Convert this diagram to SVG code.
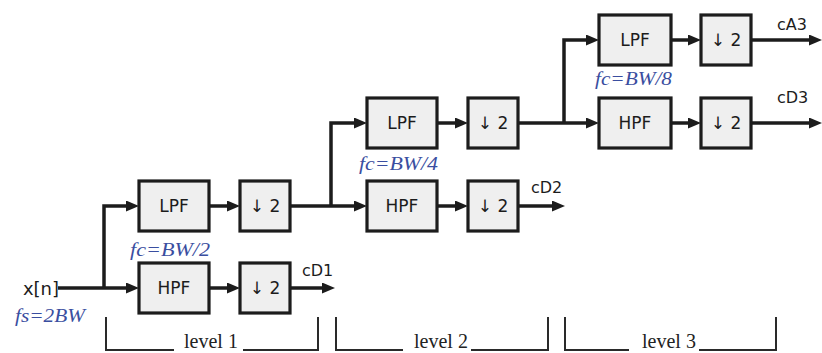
<svg xmlns="http://www.w3.org/2000/svg" width="822" height="353" viewBox="0 0 822 353">
<style>
.box{fill:#efefef;stroke:#1c1c1c;stroke-width:3.2}
.lbl{font-family:"DejaVu Sans","Liberation Sans",sans-serif;font-size:17px;fill:#1c1c1c;text-anchor:middle}
.out{font-family:"DejaVu Sans","Liberation Sans",sans-serif;font-size:16px;fill:#1c1c1c}
.xin{font-family:"DejaVu Sans","Liberation Sans",sans-serif;font-size:18px;fill:#1c1c1c;text-anchor:end}
.fc{font-family:"Liberation Serif","Times New Roman",serif;font-style:italic;font-size:19px;fill:#3a4ea0}
.lev{font-family:"Liberation Serif","Times New Roman",serif;font-size:20px;fill:#222;text-anchor:middle}
.wire{fill:none;stroke:#1c1c1c;stroke-width:3.5}
.br{fill:none;stroke:#2a2a2a;stroke-width:2}
</style>
<defs>
<marker id="ah" markerUnits="userSpaceOnUse" markerWidth="13" markerHeight="11" viewBox="0 0 13 11" refX="3" refY="5.5" orient="auto">
<path d="M0,0 L13,5.5 L0,11 z" fill="#1c1c1c"/>
</marker>
</defs>
<g id="connectors">
<path class="wire" d="M58,288 H129" marker-end="url(#ah)"/>
<path class="wire" d="M104,288 V206 H129" marker-end="url(#ah)"/>
<path class="wire" d="M209,206 H230" marker-end="url(#ah)"/>
<path class="wire" d="M209,288 H230" marker-end="url(#ah)"/>
<path class="wire" d="M290,288 H325" marker-end="url(#ah)"/>
<path class="wire" d="M290,206 H357" marker-end="url(#ah)"/>
<path class="wire" d="M331,206 V123 H357" marker-end="url(#ah)"/>
<path class="wire" d="M437,123 H458" marker-end="url(#ah)"/>
<path class="wire" d="M437,206 H458" marker-end="url(#ah)"/>
<path class="wire" d="M518,206 H555" marker-end="url(#ah)"/>
<path class="wire" d="M518,123 H589" marker-end="url(#ah)"/>
<path class="wire" d="M564,123 V40 H589" marker-end="url(#ah)"/>
<path class="wire" d="M671,40 H691" marker-end="url(#ah)"/>
<path class="wire" d="M671,123 H691" marker-end="url(#ah)"/>
<path class="wire" d="M751,40 H812" marker-end="url(#ah)"/>
<path class="wire" d="M751,123 H812" marker-end="url(#ah)"/>
</g>
<g id="input">
<text class="xin" x="59" y="295">x[n]</text>
<text class="fc" x="15" y="322" textLength="70" lengthAdjust="spacingAndGlyphs">fs=2BW</text>
</g>
<g id="lpf1"><rect class="box" x="139" y="181" width="70" height="50"/><text class="lbl" x="174" y="212">LPF</text></g>
<g id="down1a"><rect class="box" x="240" y="181" width="50" height="50"/><text class="lbl" x="265" y="212">↓ 2</text></g>
<g id="hpf1"><rect class="box" x="139" y="263" width="70" height="50"/><text class="lbl" x="174" y="294">HPF</text></g>
<g id="down1b"><rect class="box" x="240" y="263" width="50" height="50"/><text class="lbl" x="265" y="294">↓ 2</text></g>
<g id="lpf2"><rect class="box" x="367" y="98" width="70" height="50"/><text class="lbl" x="402" y="129">LPF</text></g>
<g id="down2a"><rect class="box" x="468" y="98" width="50" height="50"/><text class="lbl" x="493" y="129">↓ 2</text></g>
<g id="hpf2"><rect class="box" x="367" y="181" width="70" height="50"/><text class="lbl" x="402" y="212">HPF</text></g>
<g id="down2b"><rect class="box" x="468" y="181" width="50" height="50"/><text class="lbl" x="493" y="212">↓ 2</text></g>
<g id="lpf3"><rect class="box" x="599" y="15" width="72" height="50"/><text class="lbl" x="635" y="46">LPF</text></g>
<g id="down3a"><rect class="box" x="701" y="15" width="50" height="50"/><text class="lbl" x="726" y="46">↓ 2</text></g>
<g id="hpf3"><rect class="box" x="599" y="98" width="72" height="50"/><text class="lbl" x="635" y="129">HPF</text></g>
<g id="down3b"><rect class="box" x="701" y="98" width="50" height="50"/><text class="lbl" x="726" y="129">↓ 2</text></g>
<g id="labels">
<text class="fc" x="130" y="256" textLength="80" lengthAdjust="spacingAndGlyphs">fc=BW/2</text>
<text class="fc" x="359" y="170" textLength="79" lengthAdjust="spacingAndGlyphs">fc=BW/4</text>
<text class="fc" x="595" y="85" textLength="77" lengthAdjust="spacingAndGlyphs">fc=BW/8</text>
<text class="out" x="302" y="276">cD1</text>
<text class="out" x="531" y="193">cD2</text>
<text class="out" x="777" y="30">cA3</text>
<text class="out" x="777" y="103">cD3</text>
</g>
<g id="levels">
<path class="br" d="M106,317 V350 H174 M243,350 H318 V317"/>
<text class="lev" x="211" y="348">level 1</text>
<path class="br" d="M336,317 V350 H403 M471,350 H548 V317"/>
<text class="lev" x="441" y="348">level 2</text>
<path class="br" d="M565,317 V350 H629 M699,350 H776 V317"/>
<text class="lev" x="669" y="348">level 3</text>
</g>
</svg>
